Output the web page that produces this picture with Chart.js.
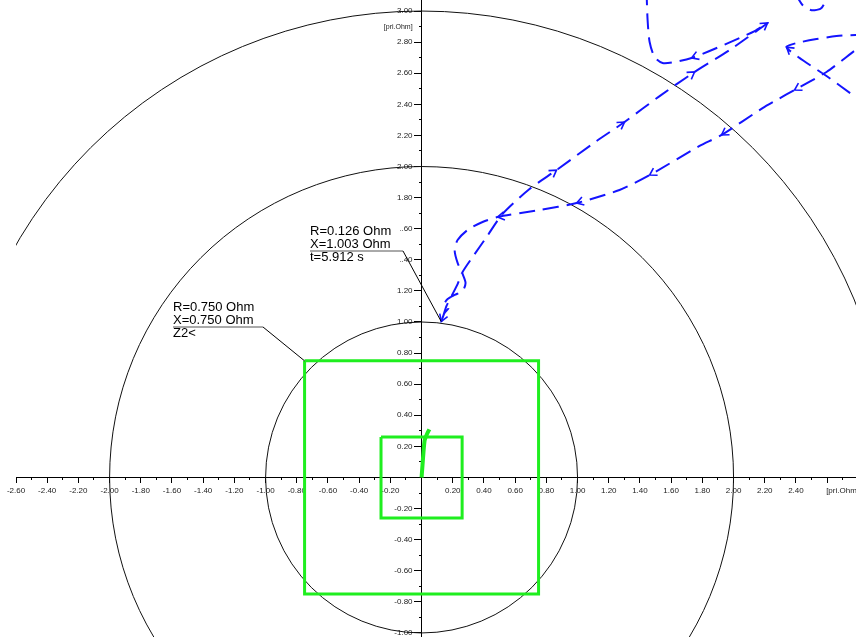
<!DOCTYPE html>
<html>
<head>
<meta charset="utf-8">
<title>R-X impedance locus</title>
<script src="https://cdn.jsdelivr.net/npm/chart.js@4.4.1/dist/chart.umd.min.js"></script>
<style>
  html, body { margin: 0; padding: 0; background: #fff; }
  canvas { display: block; }
</style>
</head>
<body>
<canvas id="rxChart" width="856" height="637"></canvas>
<script>
// reach circles |Z| (pri.Ohm)
const circleRadii = [1, 2, 3];

// quadrilateral zones, half side in R and X
const zoneReach = [0.26, 0.75];

// fault locus (green)
const faultR = [0, 0.006, 0.012, 0.02, 0.035, 0.05];
const faultX = [0, 0.08, 0.16, 0.24, 0.28, 0.31];

// swing locus (blue); null breaks the line where it leaves the plane
const swingR = [
  0.135, 0.160, 0.192, 0.231, 0.263, 0.327, 0.417, 0.519, 0.692, 0.865,
  1.122, 1.301, 1.526, 1.750, 1.974, 2.218, 2.135, 2.038, 1.846, 1.731,
  1.622, 1.545, 1.494, 1.462, 1.449, 1.442, null,
  2.391, 2.442, 2.500, 2.564, 2.615, null,
  2.872, 2.782, 2.596, 2.442, 2.340, 2.404, 2.532, 2.660, 2.782, 2.904, null,
  2.904, 2.782, 2.699, 2.596, 2.391, 2.276, 2.186, 1.923, 1.782, 1.462,
  1.269, 0.994, 0.756, 0.487, 0.391, 0.295, 0.231, 0.212, 0.231, 0.263,
  0.282, 0.263, 0.212, 0.167, 0.147, 0.173, 0.147, 0.126
];
const swingX = [
  1.026, 1.103, 1.167, 1.244, 1.322, 1.418, 1.547, 1.695, 1.855, 1.977,
  2.164, 2.286, 2.453, 2.608, 2.749, 2.923, 2.871, 2.826, 2.743, 2.698,
  2.672, 2.666, 2.704, 2.801, 2.942, 3.135, null,
  3.122, 3.039, 3.005, 3.020, 3.122, null,
  2.383, 2.447, 2.582, 2.685, 2.768, 2.794, 2.820, 2.839, 2.846, 2.846, null,
  2.820, 2.749, 2.685, 2.608, 2.492, 2.428, 2.376, 2.203, 2.132, 1.945,
  1.849, 1.765, 1.720, 1.675, 1.643, 1.592, 1.527, 1.463, 1.380, 1.309,
  1.251, 1.199, 1.174, 1.148, 1.116, 1.090, 1.058, 1.003
];
// points of the swing locus that carry a direction arrow
const swingArrows = [9, 11, 13, 15, 19, 37, 48, 51, 53, 55, 57, 71];

// axis ranges and tick steps
const rRange = [-2.6, 2.785];
const xRange = [-1.026, 3.071];
const majorStep = 0.2;
const minorStep = 0.1;
const unitText = '[pri.Ohm]';
const unitTickR = 2.6;

// callouts: [R, X, third line]
const callouts = [
  [-0.75, 0.75, 'Z2<'],
  [0.126, 1.003, 't=5.912 s']
];
// elbow offset from the anchor and length of the underline
const calloutLayout = [
  { dx: -42, dy: -34, len: 90 },
  { dx: -38, dy: -71, len: 93 }
];

const FONT = '"Liberation Sans", Arial, Helvetica, sans-serif';
const tickFont = { family: FONT, size: 8 };
const Y_TICK = 7;
const Y_LABEL_GAP = 2;

function fmtTick(v) {
  return Math.abs(v) < 1e-6 ? '' : v.toFixed(2);
}

function squarePoints(h) {
  return [
    { x: -h, y: h }, { x: h, y: h }, { x: h, y: -h }, { x: -h, y: -h }, { x: -h, y: h }
  ];
}

const swingData = swingR.map((r, i) => ({ x: r, y: swingX[i] }));
const faultData = faultR.map((r, i) => ({ x: r, y: faultX[i] }));

const zoneSets = zoneReach.map(h => ({
  data: squarePoints(h),
  borderColor: '#1fee1f',
  borderWidth: 3,
  pointRadius: 0,
  tension: 0
}));

// centred axes take no room in the layout
function flatten(axis) {
  return s => {
    if (axis === 'x') s.height = 0; else s.width = 0;
    s.paddingTop = s.paddingBottom = s.paddingLeft = s.paddingRight = 0;
  };
}

function majorAxis(axis, range, tl, cb, extra) {
  return Object.assign({
    type: 'linear',
    axis: axis,
    min: range[0],
    max: range[1],
    afterFit: flatten(axis),
    border: { display: true, color: '#000', width: 1 },
    grid: { drawOnChartArea: false, drawTicks: true, tickLength: tl, tickColor: '#000', tickWidth: 1 },
    ticks: {
      stepSize: majorStep, includeBounds: false, autoSkip: false,
      maxRotation: 0, minRotation: 0, color: '#222', font: tickFont, padding: 4,
      callback: cb
    }
  }, extra);
}

function minorAxis(axis, range, tl, extra) {
  return Object.assign({
    type: 'linear',
    axis: axis,
    min: range[0],
    max: range[1],
    afterFit: flatten(axis),
    border: { display: false },
    grid: { drawOnChartArea: false, drawTicks: true, tickLength: tl, tickColor: '#000', tickWidth: 1 },
    ticks: { stepSize: minorStep, includeBounds: false, autoSkip: false, display: false, maxRotation: 0 }
  }, extra);
}

// circles, arrows, callouts and unit labels
const rxDecor = {
  id: 'rxDecor',
  beforeDraw(chart) {
    // y labels of a value-positioned axis sit on the axis line: move them left of the ticks
    const items = chart.scales.y.getLabelItems();
    if (!items._shifted) {
      items.forEach(it => { it.options.translation[0] -= Y_TICK + Y_LABEL_GAP; });
      items._shifted = true;
    }
  },
  beforeDatasetsDraw(chart) {
    const { ctx, chartArea, scales } = chart;
    const sx = scales.x, sy = scales.y;
    const cx = sx.getPixelForValue(0), cy = sy.getPixelForValue(0);
    ctx.save();
    ctx.beginPath();
    ctx.rect(chartArea.left, chartArea.top, chartArea.right - chartArea.left, chartArea.bottom - chartArea.top);
    ctx.clip();
    ctx.strokeStyle = '#111';
    ctx.lineWidth = 1;
    circleRadii.forEach(r => {
      const rx = sx.getPixelForValue(r) - cx;
      const ry = cy - sy.getPixelForValue(r);
      ctx.beginPath();
      ctx.ellipse(cx, cy, rx, ry, 0, 0, Math.PI * 2);
      ctx.stroke();
    });
    ctx.restore();
  },
  afterDatasetsDraw(chart) {
    const { ctx, scales } = chart;
    const sx = scales.x, sy = scales.y;

    // direction arrows on the swing locus
    const pts = chart.getDatasetMeta(0).data;
    ctx.save();
    ctx.strokeStyle = '#1414ff';
    ctx.lineWidth = 1.6;
    swingArrows.forEach(i => {
      const p = pts[i], q = pts[i - 1];
      if (!p || !q) return;
      const a = Math.atan2(p.y - q.y, p.x - q.x);
      const L = 8, w = 0.55;
      ctx.beginPath();
      ctx.moveTo(p.x - L * Math.cos(a - w), p.y - L * Math.sin(a - w));
      ctx.lineTo(p.x, p.y);
      ctx.lineTo(p.x - L * Math.cos(a + w), p.y - L * Math.sin(a + w));
      ctx.stroke();
    });
    ctx.restore();

    // callouts
    ctx.save();
    ctx.font = '13px ' + FONT;
    ctx.textBaseline = 'middle';
    ctx.textAlign = 'left';
    callouts.forEach((c, k) => {
      const lay = calloutLayout[k];
      const ax = sx.getPixelForValue(c[0]);
      const ay = sy.getPixelForValue(c[1]);
      const ex = Math.round(ax + lay.dx);
      const ey = Math.round(ay + lay.dy);
      const x0 = ex - lay.len;
      const lines = [
        'R=' + Math.abs(c[0]).toFixed(3) + ' Ohm',
        'X=' + Math.abs(c[1]).toFixed(3) + ' Ohm',
        c[2]
      ];
      ctx.fillStyle = '#fff';
      ctx.fillRect(x0 - 1, ey - 27, lay.len - 2, 40);
      ctx.fillStyle = '#000';
      lines.forEach((t, j) => ctx.fillText(t, x0, ey - 20 + j * 13));
      ctx.strokeStyle = '#555';
      ctx.lineWidth = 1;
      ctx.beginPath();
      ctx.moveTo(x0, ey);
      ctx.lineTo(ex, ey);
      ctx.stroke();
      ctx.strokeStyle = '#000';
      ctx.beginPath();
      ctx.moveTo(ex, ey);
      ctx.lineTo(ax, ay);
      ctx.stroke();
    });
    ctx.restore();

    // unit labels
    ctx.save();
    ctx.fillStyle = '#222';
    ctx.textBaseline = 'middle';
    ctx.font = '8px ' + FONT;
    ctx.textAlign = 'left';
    ctx.fillText(unitText, sx.getPixelForValue(unitTickR) - 1, sy.getPixelForValue(0) + 13);
    ctx.font = '7px ' + FONT;
    ctx.textAlign = 'right';
    ctx.fillText(unitText, sx.getPixelForValue(0) - Y_TICK - Y_LABEL_GAP, sy.getPixelForValue(2.9));
    ctx.restore();
  }
};

new Chart(document.getElementById('rxChart'), {
  type: 'line',
  data: {
    datasets: [
      {
        data: swingData,
        borderColor: '#1414ff',
        borderWidth: 2,
        borderDash: [16, 8],
        pointRadius: 0,
        tension: 0.25,
        spanGaps: false
      },
      {
        data: faultData,
        borderColor: '#1fee1f',
        borderWidth: 4,
        pointRadius: 0,
        tension: 0.2
      }
    ].concat(zoneSets)
  },
  options: {
    responsive: false,
    animation: false,
    layout: { padding: { left: 16, right: 0, top: 0, bottom: 0 } },
    plugins: { legend: { display: false }, tooltip: { enabled: false } },
    scales: {
      x: majorAxis('x', rRange, 5, v => (Math.abs(v - unitTickR) < 1e-6 ? '' : fmtTick(v)), { position: { y: 0 } }),
      y: majorAxis('y', xRange, Y_TICK, fmtTick, { position: { x: 0 } }),
      xMinor: minorAxis('x', rRange, 3, { position: { y: 0 } }),
      yMinor: minorAxis('y', xRange, 3, { position: { x: 0 } })
    }
  },
  plugins: [rxDecor]
});
</script>
</body>
</html>
